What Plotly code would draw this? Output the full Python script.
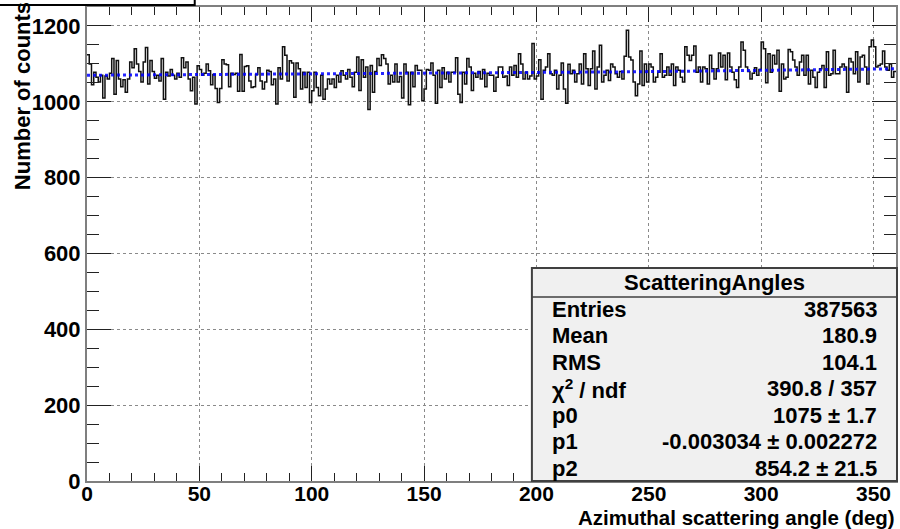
import plotly.graph_objects as go

# ROOT histogram "ScatteringAngles": 360 bins of 1 deg
counts_000_059 = [1124, 1100, 1045, 1078, 1065, 1052, 1070, 1010, 1068, 1060,
                  1075, 1114, 1020, 1109, 1060, 1040, 1058, 1025, 1060, 1105,
                  1090, 1140, 1100, 1080, 1052, 1105, 1143, 1047, 1109, 1080,
                  1062, 1070, 1055, 1114, 1007, 1078, 1068, 1085, 1070, 1060,
                  1075, 1065, 1116, 1090, 1105, 1060, 1029, 1065, 994, 1095,
                  1085, 1070, 1075, 1100, 1082, 1045, 1072, 1035, 998, 1035]
counts_060_119 = [1111, 1100, 1098, 1040, 1075, 1072, 1075, 1028, 1125, 1028,
                  1093, 1095, 1055, 1038, 1040, 1072, 1090, 1055, 1034, 1052,
                  1083, 1080, 1045, 1060, 994, 1090, 1060, 1145, 1123, 1055,
                  1108, 1102, 1012, 1102, 1087, 1034, 1078, 1038, 1078, 998,
                  1029, 1078, 1038, 1016, 1070, 1007, 1034, 1060, 1047, 1060,
                  1038, 1070, 1052, 1082, 1070, 1060, 1085, 1065, 1040, 1078]
counts_120_179 = [1118, 1030, 1111, 1065, 1092, 980, 1096, 1025, 1080, 1114,
                  1096, 1124, 1114, 1100, 1047, 1070, 1052, 1100, 1052, 1067,
                  1010, 1100, 1078, 992, 1078, 1040, 1096, 1083, 1083, 1003,
                  1034, 1085, 1083, 1102, 1070, 996, 1083, 1038, 1090, 1060,
                  1078, 1052, 1078, 1078, 1116, 1020, 998, 1078, 1047, 1114,
                  1092, 1030, 1075, 1065, 1080, 1060, 1085, 1040, 1075, 1070]
counts_180_239 = [1070, 1028, 1065, 1092, 1092, 1065, 1068, 1043, 1092, 1070,
                  1096, 1065, 1127, 1100, 1060, 1078, 1060, 1068, 1154, 1060,
                  1068, 1111, 1007, 1083, 1092, 1127, 1074, 1070, 1083, 1034,
                  1070, 1102, 1034, 996, 1099, 1074, 1083, 1052, 1074, 1100,
                  1047, 1127, 1087, 1043, 1087, 1134, 1034, 1092, 1149, 1052,
                  1070, 1083, 1056, 1100, 1092, 1074, 1065, 1080, 1060, 1120]
counts_240_299 = [1189, 1118, 1110, 1052, 1016, 1047, 1134, 1043, 1100, 1052,
                  1100, 1092, 1052, 1065, 1078, 1127, 1065, 1070, 1092, 1070,
                  1100, 1043, 1092, 1083, 1065, 1052, 1145, 1123, 1109, 1123,
                  1147, 1078, 1092, 1052, 1092, 1087, 1047, 1123, 1087, 1060,
                  1087, 1129, 1092, 1123, 1058, 1129, 1092, 1078, 1058, 1038,
                  1092, 1158, 1136, 1092, 1080, 1060, 1075, 1090, 1070, 1085]
counts_300_359 = [1158, 1140, 1050, 1127, 1078, 1123, 1100, 1136, 1028, 1100,
                  1060, 1065, 1138, 1132, 1110, 1092, 1070, 1105, 1123, 1070,
                  1123, 1047, 1083, 1065, 1038, 1078, 1087, 1096, 1038, 1132,
                  1070, 1074, 1136, 1074, 1074, 1092, 1100, 1092, 1025, 1114,
                  1105, 1074, 1132, 1052, 1118, 1123, 1092, 1047, 1145, 1163,
                  1145, 1092, 1096, 1100, 1134, 1092, 1083, 1100, 1065, 1080]

counts = (counts_000_059 + counts_060_119 + counts_120_179 +
          counts_180_239 + counts_240_299 + counts_300_359)
bin_edges = list(range(0, 361))

# fitted curve (blue), read at a few angles
fit_x = [0, 60, 120, 180, 240, 300, 360]
fit_y = [1070, 1072, 1075, 1077, 1079, 1083, 1087]

stat_title = "ScatteringAngles"
stat_names = ["Entries", "Mean", "RMS", "χ<sup>2</sup> / ndf", "p0", "p1", "p2"]
stat_values = ["387563", "180.9", "104.1", "390.8 / 357",
               "1075 ± 1.7", "-0.003034 ± 0.002272", "854.2 ± 21.5"]

# pixel frame of the plot area
W, H = 900, 529
L, R, T, B = 87, 898, 7, 481


def fx(p):
    return (p - L) / (R - L)


def fy(p):
    return (B - p) / (B - T)


FONT = "Liberation Sans"
FS = 22
fig = go.Figure()

fig.add_trace(go.Scatter(x=bin_edges, y=counts + [counts[-1]], mode="lines",
                         line=dict(shape="hv", color="#111", width=1.5),
                         hoverinfo="skip", showlegend=False))
fig.add_trace(go.Scatter(x=fit_x, y=fit_y, mode="lines",
                         line=dict(color="rgb(0,0,255)", width=3, dash="dot"),
                         opacity=0.85, showlegend=False))

axis_common = dict(showline=True, linecolor="#7f7f7f", linewidth=2, mirror="ticks",
                   ticks="inside", tickcolor="#222", tickwidth=1,
                   showgrid=True, gridcolor="#8a8a8a", griddash="dot", gridwidth=1,
                   zeroline=False)

fig.update_xaxes(range=[0, 360], tickvals=list(range(0, 360, 50)), ticklen=15,
                 ticklabelstandoff=-7,
                 tickfont=dict(family=FONT, size=21, color="black", weight="bold"),
                 minor=dict(dtick=10, ticks="inside", ticklen=8, tickcolor="#222", showgrid=False),
                 **axis_common)
fig.update_yaxes(range=[0, 1250], tickvals=list(range(0, 1250, 200)), ticklen=24,
                 tickfont=dict(family=FONT, size=FS, color="black", weight="bold"),
                 minor=dict(dtick=50, ticks="inside", ticklen=12, tickcolor="#222", showgrid=False),
                 **axis_common)

shapes = []
# title pave, mostly cut off at the top
shapes.append(dict(type="rect", xref="paper", yref="paper",
                   x0=fx(-5), x1=fx(195), y0=fy(5), y1=fy(-20),
                   fillcolor="white", line=dict(color="black", width=2)))
# statistics box
shapes.append(dict(type="rect", xref="paper", yref="paper",
                   x0=fx(533), x1=fx(899), y0=fy(481), y1=fy(268),
                   fillcolor="#f0f0f0", line=dict(color="#404040", width=2)))
shapes.append(dict(type="line", xref="paper", yref="paper",
                   x0=fx(533), x1=fx(899), y0=fy(297), y1=fy(297),
                   line=dict(color="#404040", width=1.5)))

ann = []
ann.append(dict(text="<b>Number of counts</b>", xref="paper", yref="paper",
                x=fx(22), y=fy(0), xanchor="center", yanchor="top", textangle=-90,
                showarrow=False, font=dict(family=FONT, size=FS, color="black")))
ann.append(dict(text="<b>Azimuthal scattering angle (deg)</b>", xref="paper", yref="paper",
                x=fx(899), y=fy(531), xanchor="right", yanchor="bottom",
                showarrow=False, font=dict(family=FONT, size=20.5, color="black")))
ann.append(dict(text="<b>" + stat_title + "</b>", xref="paper", yref="paper",
                x=fx(716), y=fy(282), xanchor="center", yanchor="middle",
                showarrow=False, font=dict(family=FONT, size=FS, color="black")))
for i, (nm, val) in enumerate(zip(stat_names, stat_values)):
    yy = fy(309 + i * 26.5)
    ann.append(dict(text="<b>" + nm + "</b>", xref="paper", yref="paper",
                    x=fx(551), y=yy, xanchor="left", yanchor="middle",
                    showarrow=False, font=dict(family=FONT, size=FS, color="black")))
    ann.append(dict(text="<b>" + val + "</b>", xref="paper", yref="paper",
                    x=fx(881), y=yy, xanchor="right", yanchor="middle",
                    showarrow=False, font=dict(family=FONT, size=FS, color="black")))

fig.update_layout(width=W, height=H, margin=dict(l=L, r=W - R, t=T, b=H - B),
                  paper_bgcolor="white", plot_bgcolor="white",
                  shapes=shapes, annotations=ann, showlegend=False)

fig.write_html("out.html", config={"displayModeBar": False},
               post_script="document.body.style.margin='0';")
